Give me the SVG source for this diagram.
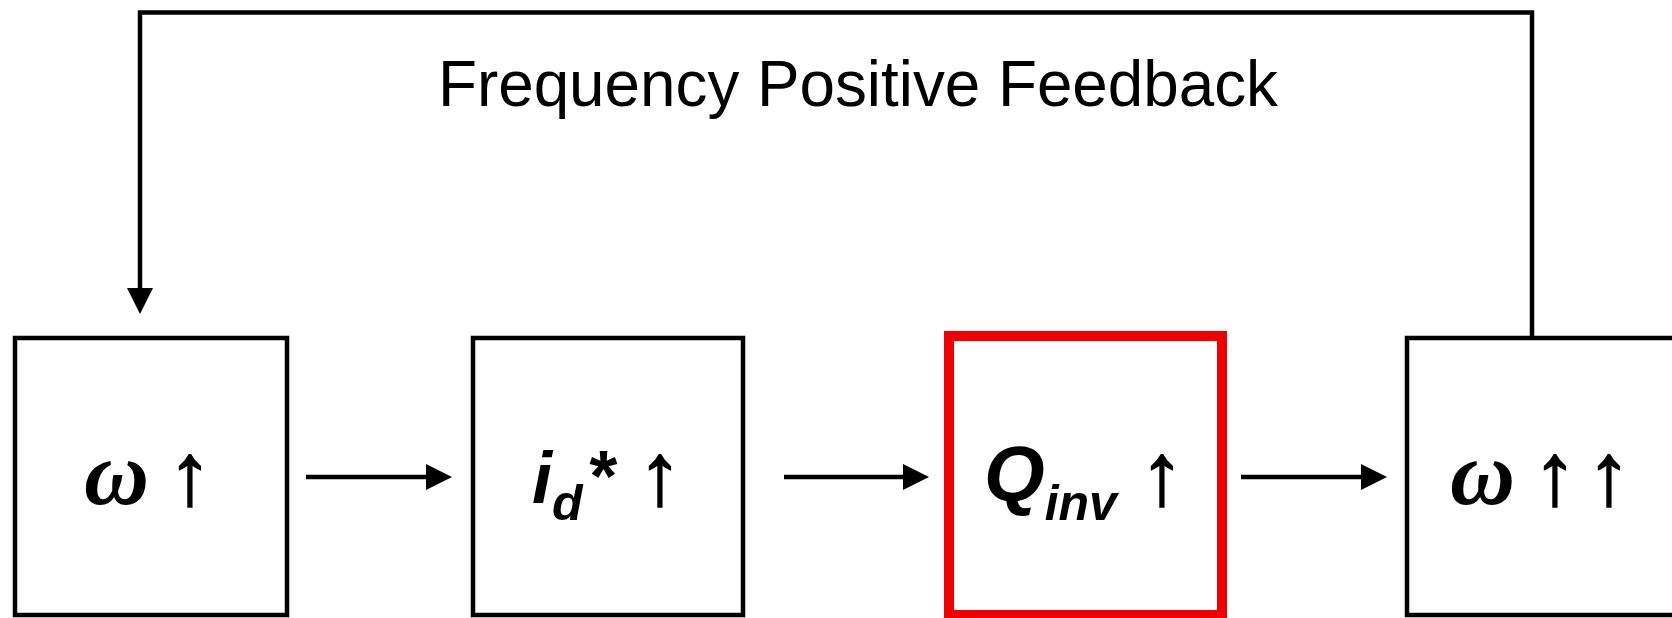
<svg xmlns="http://www.w3.org/2000/svg" width="1672" height="618" viewBox="0 0 1672 618">
<style>
.box{fill:#fff;stroke:#000;stroke-width:4.5}
.red{fill:#fff;stroke:#f00000;stroke-width:10}
.conn{fill:none;stroke:#000;stroke-width:4.5}
.title{font-family:"Liberation Sans",Arial,sans-serif;font-size:65px;fill:#000}
.m{font-family:"Liberation Sans",Arial,sans-serif;font-weight:bold;font-style:italic;font-size:72px;fill:#000}
.q{font-size:78px}
.sub{font-size:50px}
.w{font-family:"Liberation Serif","Times New Roman",serif;font-weight:bold;font-style:italic;font-size:90px;fill:#000}
.up{font-family:"Liberation Sans",Arial,sans-serif;font-size:88px;fill:#000;stroke:#000;stroke-width:1.6;text-anchor:middle}
</style>
<defs>
<marker id="ah" viewBox="0 0 26 26" refX="0" refY="13" markerWidth="26" markerHeight="26" markerUnits="userSpaceOnUse" orient="auto">
<path d="M0,0 L26,13 L0,26 Z" fill="#000"/>
</marker>
</defs>
<rect width="1672" height="618" fill="#fff"/>
<g id="connectors">
<path class="conn" d="M1532,338 V12.5 H140 V288" marker-end="url(#ah)"/>
<line class="conn" x1="306" y1="477" x2="426" y2="477" marker-end="url(#ah)"/>
<line class="conn" x1="784" y1="477" x2="903" y2="477" marker-end="url(#ah)"/>
<line class="conn" x1="1241" y1="477" x2="1361" y2="477" marker-end="url(#ah)"/>
</g>
<text class="title" x="438" y="106" textLength="840" lengthAdjust="spacingAndGlyphs">Frequency Positive Feedback</text>
<g id="node1">
<rect class="box" x="15" y="338" width="272" height="277"/>
<text class="w" x="84" y="504">ω</text>
<text class="up" x="190" y="504">↑</text>
</g>
<g id="node2">
<rect class="box" x="473" y="338" width="270" height="277"/>
<text class="m" x="532" y="503">i<tspan class="sub" dy="17">d</tspan><tspan dx="4" dy="-19">*</tspan></text>
<text class="up" x="660" y="504">↑</text>
</g>
<g id="node3">
<rect class="red" x="949" y="336" width="273" height="279"/>
<text class="m" x="984" y="501"><tspan class="q">Q</tspan><tspan class="sub" dy="19">inv</tspan></text>
<text class="up" x="1162" y="504">↑</text>
</g>
<g id="node4">
<rect class="box" x="1407" y="338" width="300" height="277"/>
<text class="w" x="1450" y="504">ω</text>
<text class="up" x="1555" y="504">↑</text>
<text class="up" x="1609" y="504">↑</text>
</g>
</svg>
